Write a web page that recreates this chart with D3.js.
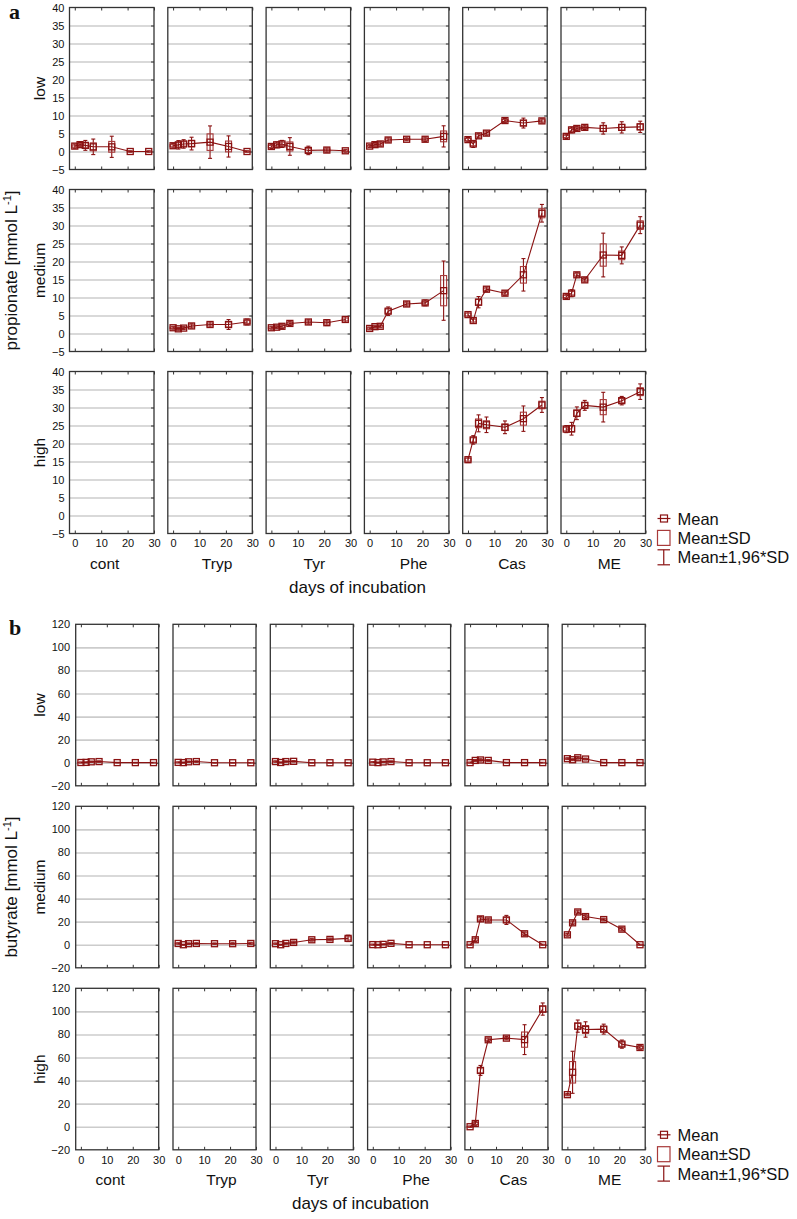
<!DOCTYPE html>
<html>
<head>
<meta charset="utf-8">
<script src="https://cdn.jsdelivr.net/npm/d3@7"></script>
<style>
  body { margin: 0; background: #fff; }
  text { font-family: "Liberation Sans", Arial, sans-serif; fill: #111; }
</style>
</head>
<body>
<svg id="chart" width="797" height="1219"></svg>
<script>
// sampling days, panels and tick labels
const days = [0, 2, 4, 7, 14, 21, 28];
const substrates = ["cont", "Tryp", "Tyr", "Phe", "Cas", "ME"];
const levels = ["low", "medium", "high"];
const dayTicks = [0, 10, 20, 30];
const propTicks = [-5, 0, 5, 10, 15, 20, 25, 30, 35, 40];
const butTicks = [-20, 0, 20, 40, 60, 80, 100, 120];
const legendLabels = ["Mean", "Mean\u00b1SD", "Mean\u00b11,96*SD"];

// propionate, one row per substrate (null = no data for that panel)
const propLowMean = [
    [1.5, 1.9, 1.7, 1.3, 1.3, 0.0, 0.0],
    [1.6, 1.85, 2.1, 2.2, 2.6, 1.4, 0.0],
    [1.4, 1.85, 2.1, 1.4, 0.3, 0.4, 0.2],
    [1.5, 1.9, 2.1, 3.2, 3.4, 3.4, 4.2],
    [3.3, 2.1, 4.35, 5.1, 8.6, 7.9, 8.5],
    [4.2, 6.0, 6.4, 6.7, 6.4, 6.7, 6.85]
];
const propLowSD = [
    [0.3, 0.3, 0.7, 1.1, 1.5, 0.1, 0.1],
    [0.3, 0.6, 0.6, 0.9, 2.3, 1.5, 0.1],
    [0.3, 0.4, 0.5, 1.25, 0.6, 0.3, 0.2],
    [0.2, 0.3, 0.3, 0.3, 0.2, 0.3, 1.5],
    [0.3, 0.5, 0.3, 0.3, 0.3, 0.7, 0.3],
    [0.3, 0.4, 0.3, 0.3, 0.8, 0.8, 0.8]
];
const propMedMean = [
    null,
    [1.6, 1.3, 1.5, 2.1, 2.5, 2.5, 3.2],
    [1.6, 1.75, 2.0, 2.8, 3.2, 3.0, 3.9],
    [1.4, 1.9, 2.0, 6.2, 8.2, 8.5, 11.9],
    [5.25, 3.6, 8.7, 12.3, 11.2, 16.3, 33.4],
    [10.3, 11.2, 16.3, 14.9, 21.8, 21.7, 30.1]
];
const propMedSD = [
    null,
    [0.2, 0.2, 0.2, 0.3, 0.4, 0.7, 0.4],
    [0.2, 0.2, 0.3, 0.3, 0.3, 0.4, 0.4],
    [0.2, 0.2, 0.2, 0.6, 0.3, 0.4, 4.2],
    [0.4, 0.4, 0.8, 0.3, 0.3, 2.3, 1.25],
    [0.3, 0.5, 0.3, 0.3, 3.1, 1.2, 1.2]
];
const propHighMean = [
    null, null, null, null,
    [15.5, 21.0, 25.6, 25.2, 24.5, 26.9, 30.7],
    [24.0, 24.1, 28.4, 30.6, 30.1, 31.9, 34.4]
];
const propHighSD = [
    null, null, null, null,
    [0.4, 0.6, 1.2, 1.1, 0.9, 1.8, 1.05],
    [0.5, 0.9, 0.9, 0.7, 2.1, 0.6, 1.1]
];

// butyrate
const butLowMean = [
    [0.2, 0.3, 0.8, 1.0, 0.1, 0.1, 0.1],
    [0.3, 0.1, 0.8, 1.0, 0.0, 0.0, 0.0],
    [1.0, 0.2, 1.0, 1.2, 0.0, 0.0, 0.0],
    [0.5, 0.1, 0.7, 1.0, 0.0, 0.0, 0.0],
    [0.1, 2.0, 2.4, 2.0, 0.1, 0.1, 0.1],
    [3.5, 2.6, 4.3, 3.2, 0.1, 0.1, 0.1]
];
const butLowSD = [
    [0.2, 0.2, 0.3, 0.3, 0.1, 0.1, 0.1],
    [0.2, 0.2, 0.3, 0.3, 0.1, 0.1, 0.1],
    [0.3, 0.2, 0.3, 0.3, 0.1, 0.1, 0.1],
    [0.2, 0.2, 0.3, 0.3, 0.1, 0.1, 0.1],
    [0.2, 0.4, 0.5, 0.4, 0.1, 0.1, 0.1],
    [0.4, 0.4, 0.6, 0.4, 0.1, 0.1, 0.1]
];
const butMedMean = [
    null,
    [1.1, 0.0, 0.9, 1.1, 0.9, 0.9, 1.1],
    [0.9, 0.0, 1.1, 2.0, 4.3, 4.6, 5.5],
    [0.1, 0.0, 0.3, 1.2, 0.0, 0.0, 0.0],
    [0.0, 4.3, 22.4, 21.5, 21.5, 9.5, 0.0],
    [8.6, 19.0, 28.4, 24.4, 21.8, 13.5, 0.0]
];
const butMedSD = [
    null,
    [0.3, 0.2, 0.3, 0.3, 0.3, 0.4, 0.5],
    [0.3, 0.2, 0.3, 0.6, 0.6, 0.6, 1.4],
    [0.2, 0.2, 0.2, 0.4, 0.1, 0.1, 0.1],
    [0.2, 0.8, 1.0, 0.8, 2.0, 0.8, 0.2],
    [0.6, 0.8, 0.8, 0.8, 0.6, 0.8, 0.2]
];
const butHighMean = [
    null, null, null, null,
    [0.0, 2.8, 48.8, 75.4, 76.8, 75.5, 102.0],
    [27.8, 47.2, 87.2, 84.3, 84.6, 71.6, 68.7]
];
const butHighSD = [
    null, null, null, null,
    [0.3, 0.8, 2.2, 0.8, 0.7, 6.6, 2.7],
    [0.5, 9.3, 2.7, 3.4, 2.2, 1.8, 0.8]
];

const red = "#8a1212";
let svg = d3.select("#chart");

// label shift of substrate names under the panels
const colLabelShift = [-7, 7, 6, 7, 7, 6];

// draws one block (a or b) of 3 x 6 panels
const drawBlock = function (cfg) {
    let block = svg.append("g");

    let x = d3.scaleLinear().domain([-2, 30]).range([0, cfg.width]);
    let y = d3.scaleLinear().domain(cfg.yDomain).range([cfg.height, 0]);

    let inner = cfg.ticks.filter(function (t) { return t > cfg.yDomain[0] && t < cfg.yDomain[1]; });

    levels.forEach(function (level, r) {
        substrates.forEach(function (sub, c) {
            let px = cfg.left + c * cfg.step;
            let py = cfg.top + r * cfg.rowStep;
            let p = block.append("g").attr("transform", "translate(" + px + "," + py + ")");

            // gridlines
            let grid = p.append("g").call(d3.axisLeft(y).tickValues(inner).tickSize(-cfg.width).tickFormat(""));
            grid.select(".domain").remove();
            grid.selectAll("line").attr("stroke", "#cccccc").attr("stroke-width", 1.6);

            // small inner ticks on right, top and bottom
            let rt = p.append("g").attr("transform", "translate(" + cfg.width + ",0)")
                .call(d3.axisLeft(y).tickValues(inner).tickSize(3).tickFormat(""));
            let tt = p.append("g").call(d3.axisBottom(x).tickValues(dayTicks).tickSize(3).tickFormat(""));
            let bt = p.append("g").attr("transform", "translate(0," + cfg.height + ")")
                .call(d3.axisTop(x).tickValues(dayTicks).tickSize(3).tickFormat(""));
            [rt, tt, bt].forEach(function (a) {
                a.select(".domain").remove();
                a.selectAll("line").attr("stroke", "#333");
            });

            // frame
            p.append("rect")
                .attr("width", cfg.width).attr("height", cfg.height)
                .attr("fill", "none").attr("stroke", "#333").attr("stroke-width", 1.3);

            // y tick labels on the first column
            if (c === 0) {
                let ya = p.append("g").call(d3.axisLeft(y).tickValues(cfg.ticks).tickSize(0).tickPadding(cfg.labelPad));
                ya.select(".domain").remove();
                ya.selectAll("text").style("font-size", "11px").attr("fill", "#222")
                    .style("font-family", "'Liberation Sans', Arial, sans-serif");
            }

            // x tick labels on the last row
            if (r === levels.length - 1) {
                let xa = p.append("g").attr("transform", "translate(0," + cfg.height + ")")
                    .call(d3.axisBottom(x).tickValues(dayTicks).tickSize(0).tickPadding(6));
                xa.select(".domain").remove();
                xa.selectAll("text").style("font-size", "11px").attr("fill", "#222")
                    .style("font-family", "'Liberation Sans', Arial, sans-serif");

                p.append("text")
                    .attr("x", cfg.width / 2 + colLabelShift[c])
                    .attr("y", cfg.height + 35)
                    .attr("text-anchor", "middle")
                    .style("font-size", "15.5px")
                    .text(sub);
            }

            // data
            let means = cfg.means[r][c];
            let sds = cfg.sds[r][c];
            if (!means) return;

            let pts = days.map(function (d, i) {
                return { day: d, mean: means[i], sd: sds[i] };
            });

            let marks = p.append("g").attr("stroke", red).attr("fill", "none").attr("stroke-width", 1.1);

            // Mean±1,96*SD whiskers
            marks.selectAll(".wh").data(pts).enter().append("line")
                .attr("x1", function (d) { return x(d.day); })
                .attr("x2", function (d) { return x(d.day); })
                .attr("y1", function (d) { return y(d.mean - 1.96 * d.sd); })
                .attr("y2", function (d) { return y(d.mean + 1.96 * d.sd); });
            [-1, 1].forEach(function (s) {
                marks.selectAll(".cap" + s).data(pts).enter().append("line")
                    .attr("x1", function (d) { return x(d.day) - 2; })
                    .attr("x2", function (d) { return x(d.day) + 2; })
                    .attr("y1", function (d) { return y(d.mean + s * 1.96 * d.sd); })
                    .attr("y2", function (d) { return y(d.mean + s * 1.96 * d.sd); });
            });

            // Mean±SD boxes
            marks.selectAll(".box").data(pts).enter().append("rect")
                .attr("x", function (d) { return x(d.day) - 3; })
                .attr("y", function (d) { return y(d.mean + d.sd); })
                .attr("width", 6)
                .attr("height", function (d) { return y(d.mean - d.sd) - y(d.mean + d.sd); })
                .attr("stroke", "#a83a3a");

            // line through means
            let line = d3.line()
                .x(function (d) { return x(d.day); })
                .y(function (d) { return y(d.mean); });
            marks.append("path").datum(pts).attr("d", line);

            // mean markers
            marks.selectAll(".mk").data(pts).enter().append("rect")
                .attr("x", function (d) { return x(d.day) - 3; })
                .attr("y", function (d) { return y(d.mean) - 3; })
                .attr("width", 6).attr("height", 6)
                .attr("stroke-width", 1.3);
        });

        // row label
        svg.append("text")
            .attr("transform", "translate(45," + (cfg.top + r * cfg.rowStep + cfg.height / 2) + ") rotate(-90)")
            .attr("text-anchor", "middle")
            .style("font-size", "15.5px")
            .text(level);
    });

    // measure label
    let ml = svg.append("text")
        .attr("transform", "translate(17," + (cfg.top + cfg.rowStep + cfg.height / 2) + ") rotate(-90)")
        .attr("text-anchor", "middle")
        .style("font-size", "17px");
    ml.append("tspan").text(cfg.measure + " [mmol L");
    ml.append("tspan").attr("dy", -6).style("font-size", "11px").text("-1");
    ml.append("tspan").attr("dy", 6).text("]");

    // block letter
    svg.append("text")
        .attr("x", 9).attr("y", cfg.top + 11)
        .style("font-family", "'Liberation Serif', 'Times New Roman', serif")
        .style("font-weight", "bold")
        .style("font-size", "22px")
        .text(cfg.letter);

    let bottom = cfg.top + 2 * cfg.rowStep + cfg.height;

    // x axis title
    svg.append("text")
        .attr("x", cfg.left + (5 * cfg.step + cfg.width) / 2)
        .attr("y", bottom + 59)
        .attr("text-anchor", "middle")
        .style("font-size", "17px")
        .text("days of incubation");

    // legend
    let lg = svg.append("g").attr("transform", "translate(657.5," + (bottom - 15) + ")");
    legendLabels.forEach(function (t, i) {
        let row = lg.append("g").attr("transform", "translate(0," + i * 19.4 + ")");
        let s = row.append("g").attr("stroke", red).attr("fill", "none").attr("stroke-width", 1.2);
        if (i === 0) {
            s.append("line").attr("x1", 0).attr("x2", 13).attr("y1", 0).attr("y2", 0);
            s.append("rect").attr("x", 3).attr("y", -3.5).attr("width", 7).attr("height", 7);
        } else if (i === 1) {
            s.append("rect").attr("x", 0).attr("y", -7.5).attr("width", 12.5).attr("height", 15).attr("stroke", "#a83a3a");
        } else {
            s.append("line").attr("x1", 6.25).attr("x2", 6.25).attr("y1", -7.5).attr("y2", 7.5);
            s.append("line").attr("x1", 0).attr("x2", 12.5).attr("y1", -7.5).attr("y2", -7.5);
            s.append("line").attr("x1", 0).attr("x2", 12.5).attr("y1", 7.5).attr("y2", 7.5);
        }
        row.append("text").attr("x", 20).attr("y", 6)
            .style("font-size", "16.5px")
            .text(t);
    });
};

drawBlock({
    letter: "a", measure: "propionate",
    top: 7.5, left: 69.5, step: 98.3, width: 84.5, height: 162, rowStep: 182,
    yDomain: [-5, 40], ticks: propTicks, labelPad: 5,
    means: [propLowMean, propMedMean, propHighMean],
    sds: [propLowSD, propMedSD, propHighSD]
});

drawBlock({
    letter: "b", measure: "butyrate",
    top: 624.3, left: 75.7, step: 97.3, width: 83, height: 161.5, rowStep: 182,
    yDomain: [-20, 120], ticks: butTicks, labelPad: 5.7,
    means: [butLowMean, butMedMean, butHighMean],
    sds: [butLowSD, butMedSD, butHighSD]
});
</script>
</body>
</html>
